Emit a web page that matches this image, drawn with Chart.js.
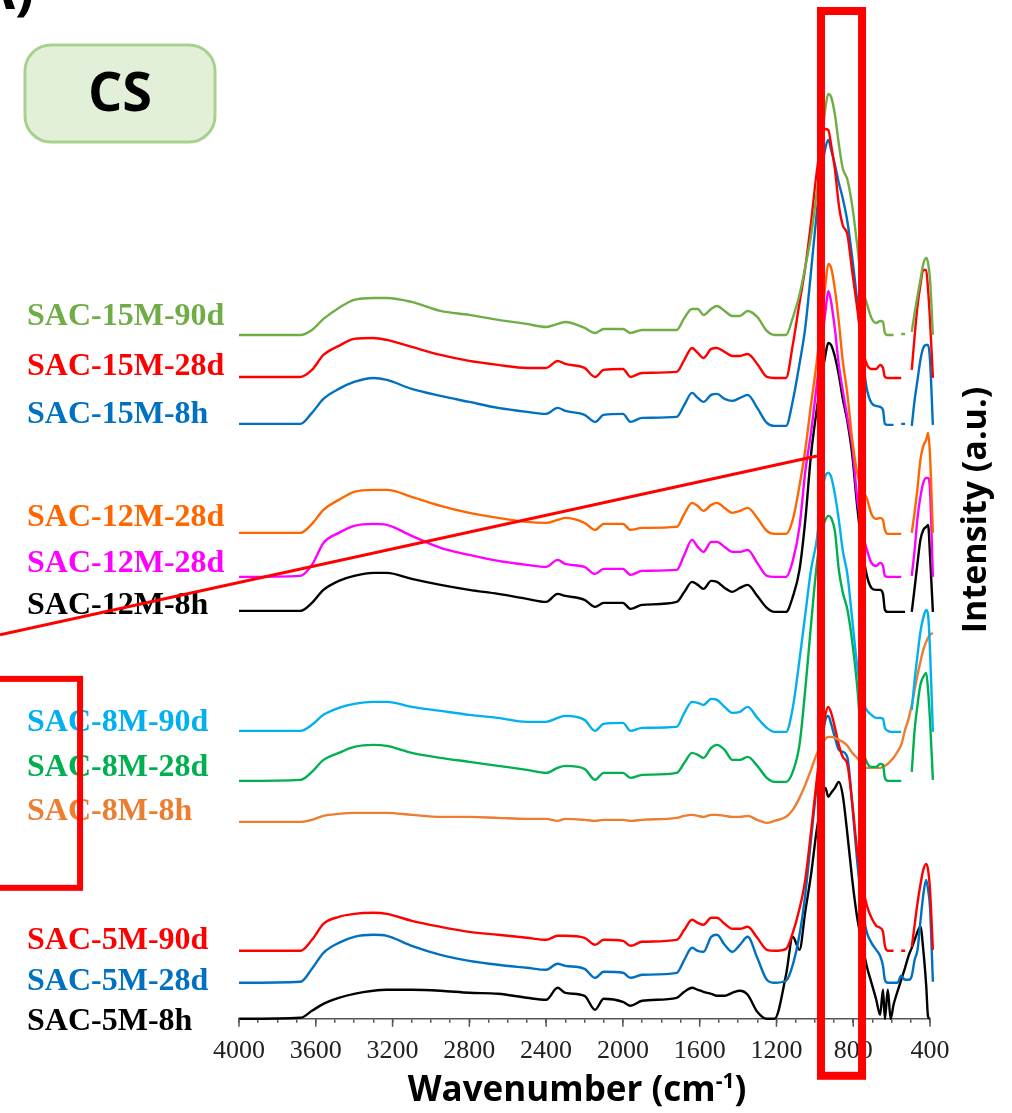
<!DOCTYPE html>
<html>
<head>
<meta charset="utf-8">
<script src="https://cdn.jsdelivr.net/npm/chart.js@4.4.1/dist/chart.umd.min.js"></script>
<style>
  html, body { margin: 0; padding: 0; background: #fff; }
  #wrap { position: relative; width: 1012px; height: 1113px; overflow: hidden; }
</style>
</head>
<body>
<div id="wrap"><canvas id="ftir-chart" width="1012" height="1113"></canvas></div>
<script>
// wavenumbers (cm-1) shared by every spectrum
const wavenumbers = [
  4000, 3680, 3620, 3560, 3480, 3400, 3300, 3230, 3100, 2950, 2800, 2650, 2500,
  2400, 2340, 2300, 2200, 2145, 2100, 2000, 1960, 1900,
  1720, 1680, 1640, 1610, 1580, 1540, 1510, 1470, 1430, 1390, 1350, 1300, 1250, 1210, 1150,
  1115, 1080, 1050, 1020, 990, 965, 945, 930, 915, 895, 875, 855, 830, 805, 780, 755, 730, 705,
  680, 660, 645, 635, 620, 605, 590, 570, 550, 530, 510,
  495, 480, 465, 450, 435, 420, 410, 400, 385
];

// stacked intensities (a.u.), null = no data
const sac15M90d = [
  684, 684, 689, 700, 711, 719, 721, 721, 717, 708, 704, 699, 695,
  692, 695, 697, 691, 686, 690, 690, 686, 689,
  689, 701, 710, 710, 704, 710, 713, 708, 703, 703, 708, 702, 688, 684, 684,
  701, 724, 752, 783, 827, 876, 911, 925, 922, 904, 875, 851, 839, 813, 775, 734, 716, 701,
  696, 698, 697, 686, 684, 684, 684, null, 685, 685, null,
  687, 706, 723, 739, 755, 761, 756, 740, 684
];
const sac15M28d = [
  642, 642, 649, 664, 673, 680, 681, 679, 672, 664, 658, 654, 651,
  651, 658, 655, 651, 642, 649, 650, 642, 646,
  647, 659, 671, 666, 661, 670, 671, 667, 663, 663, 665, 655, 642, 641, 641,
  674, 716, 751, 796, 847, 879, 890, 889, 874, 849, 814, 794, 784, 747, 712, 674, 655, 650,
  650, 654, 651, 642, 641, 641, 641, 641, 641, null, null,
  649, 683, 713, 734, 749, 749, 729, 699, 641
];
const sac15M8h = [
  595, 595, 606, 620, 630, 637, 641, 639, 630, 623, 617, 611, 607,
  605, 611, 608, 604, 597, 604, 605, 597, 601,
  602, 614, 626, 621, 617, 624, 625, 620, 618, 621, 624, 611, 596, 593, 593,
  618, 655, 691, 747, 806, 847, 871, 879, 869, 854, 836, 821, 797, 761, 719, 669, 631, 616,
  613, 612, 609, 595, 594, 594, 594, null, 595, 595, null,
  593, 619, 639, 659, 671, 674, 674, 659, 594
];
const sac12M28dA = [
  486, 486, 495, 509, 519, 527, 529, 529, 522, 513, 506, 501, 497,
  496, 499, 501, 496, 489, 495, 495, 489, 491,
  492, 505, 516, 513, 508, 514, 516, 511, 506, 508, 511, 501, 488, 485, 485,
  499, 533, 569, 614, 657, 699, 734, 755, 751, 729, 697, 659, 624, 579, 547, 529, 521, 505,
  500, 501, 499, 489, 485, 485, 485, 485, 485, null, null,
  486, 507, 531, 559, 573, 579, 586, 564, 486
];
const sac12M28dB = [
  442, 443, 454, 476, 486, 493, 495, 494, 483, 471, 464, 458, 454,
  452, 459, 455, 452, 445, 450, 450, 444, 448,
  449, 464, 479, 472, 467, 477, 477, 472, 467, 467, 469, 456, 443, 442, 442,
  458, 492, 547, 586, 634, 674, 707, 728, 717, 689, 654, 629, 601, 573, 522, 489, 470, 456,
  453, 456, 453, 443, 442, 442, 442, 442, 442, null, null,
  443, 469, 501, 522, 536, 541, 541, 529, 442
];
const sac12M8h = [
  408, 408, 416, 429, 438, 443, 446, 446, 440, 434, 429, 425, 420,
  417, 425, 423, 419, 412, 416, 416, 410, 414,
  417, 427, 437, 434, 430, 438, 437, 431, 427, 431, 434, 423, 411, 407, 407,
  422, 449, 498, 564, 609, 641, 664, 676, 674, 662, 644, 621, 597, 564, 514, 473, 444, 431,
  429, 429, 425, 409, 407, 407, 407, 407, 407, 407, null,
  407, 431, 456, 479, 489, 492, 494, 464, 407
];
const sac8M90d = [
  288, 288, 294, 304, 311, 315, 317, 317, 312, 308, 304, 301, 297,
  297, 301, 303, 299, 288, 295, 296, 288, 291,
  292, 306, 317, 316, 314, 320, 319, 312, 306, 307, 312, 301, 291, 287, 287,
  311, 359, 404, 449, 479, 524, 543, 546, 542, 524, 499, 469, 444, 399, 354, 321, 309, 304,
  301, 301, 300, 291, 288, 287, 287, 287, 287, null, null,
  309, 339, 364, 387, 401, 409, 404, 369, 287
];
const sac8M28d = [
  238, 239, 247, 259, 266, 272, 274, 273, 266, 261, 257, 253, 249,
  246, 251, 253, 250, 239, 246, 246, 241, 244,
  246, 256, 266, 264, 261, 271, 274, 269, 259, 259, 262, 253, 241, 237, 237,
  247, 274, 329, 394, 454, 487, 499, 503, 501, 487, 449, 427, 409, 377, 334, 276, 257, 252,
  252, 255, 254, 241, 238, 238, 238, 238, 238, null, null,
  247, 289, 314, 334, 342, 346, 329, 299, 239
];
const sac8M8h = [
  197, 197, 199, 203, 205, 206, 206, 206, 204, 202, 202, 201, 200,
  200, 198, 200, 199, 198, 199, 199, 198, 199,
  201, 203, 204, 203, 202, 204, 204, 203, 202, 202, 203, 199, 196, 198, 202,
  209, 221, 234, 249, 265, 274, 280, 282, 282, 281, 279, 277, 273, 266, 261, 254, 251, 251,
  251, 251, 252, 253, 255, 258, 261, 267, 274, 289, 301,
  314, 329, 344, 357, 369, 377, 381, 384, 386
];
const sac5M90d = [
  68, 68, 79, 95, 102, 105, 106, 105, 98, 92, 87, 84, 81,
  79, 83, 83, 81, 74, 79, 78, 73, 77,
  79, 89, 99, 96, 94, 101, 101, 95, 90, 90, 92, 81, 69, 68, 70,
  86, 110, 139, 187, 239, 279, 304, 312, 306, 291, 274, 262, 254, 216, 169, 136, 114, 101,
  93, 91, 87, 73, 68, 68, 68, null, 68, 68, null,
  72, 94, 116, 134, 149, 155, 149, 129, 69
];
const sac5M28d = [
  36, 37, 50, 66, 76, 82, 84, 83, 73, 64, 58, 54, 51,
  49, 55, 53, 50, 41, 47, 46, 41, 44,
  46, 59, 71, 68, 67, 82, 84, 74, 67, 74, 82, 61, 39, 36, 38,
  54, 84, 124, 179, 234, 274, 299, 303, 295, 281, 269, 267, 261, 214, 159, 114, 87, 76,
  69, 63, 53, 39, 36, 36, 36, 36, 43, 39, 39,
  43, 59, 69, 97, 124, 139, 129, 112, 37
];
const sac5M8h = [
  0, 1, 8, 15, 21, 25, 28, 29, 29, 28, 26, 25, 21,
  19, 31, 26, 23, 9, 20, 17, 13, 18,
  21, 27, 31, 29, 27, 25, 23, 23, 26, 28, 24, 7, 0, 0, 44,
  82, 69, 107, 144, 189, 216, 231, 222, 226, 231, 237, 224, 184, 139, 102, 77, 53, 36,
  19, 4, 29, 0, 29, 0, 14, 27, 39, 51, 64,
  71, 79, 87, 92, 69, 34, 2, 0, null
];

const names = [
  'SAC-15M-90d', 'SAC-15M-28d', 'SAC-15M-8h',
  'SAC-12M-28d', 'SAC-12M-28d', 'SAC-12M-8h',
  'SAC-8M-90d', 'SAC-8M-28d', 'SAC-8M-8h',
  'SAC-5M-90d', 'SAC-5M-28d', 'SAC-5M-8h'
];
const spectra = [
  sac15M90d, sac15M28d, sac15M8h,
  sac12M28dA, sac12M28dB, sac12M8h,
  sac8M90d, sac8M28d, sac8M8h,
  sac5M90d, sac5M28d, sac5M8h
];

// styling
const colors = [
  '#70AD47', '#FF0000', '#0070C0',
  '#FF6600', '#FF00FF', '#000000',
  '#00B0F0', '#00B050', '#ED7D31',
  '#FF0000', '#0070C0', '#000000'
];
// baseline of each name, in intensity units
const labelLevels = [694, 644, 596, 493, 447, 405, 288, 243, 199, 70, 29, -11];
// red frame around the main band: [wn left, wn right, top, bottom]
const bandBox = [968, 754, 1008, -57];
// pointer to the inset frame: [wn, intensity] -> [wn, intensity]
const pointer = [[5245, 384], [989, 563]];
const insetBox = [5400, 4828, 340, 131];

const datasets = spectra.map((vals, i) => ({
  label: names[i],
  data: wavenumbers.map((w, j) => ({ x: w, y: vals[j] })),
  borderColor: colors[i],
  backgroundColor: colors[i],
  borderWidth: 2.4,
  pointRadius: 0,
  fill: false,
  spanGaps: false,
  cubicInterpolationMode: 'monotone',
  clip: false
}));

// names written at the left of each trace
const seriesLabels = {
  id: 'seriesLabels',
  afterDatasetsDraw(chart) {
    const { ctx, scales: { y } } = chart;
    ctx.save();
    ctx.font = 'bold 32px "Liberation Serif", "Times New Roman", serif';
    ctx.textAlign = 'left';
    ctx.textBaseline = 'alphabetic';
    names.forEach((name, i) => {
      ctx.fillStyle = colors[i];
      ctx.fillText(name, 27, y.getPixelForValue(labelLevels[i]));
    });
    ctx.restore();
  }
};

// longer ticks on the labelled wavenumbers, titles and callouts
const decorations = {
  id: 'decorations',
  afterDraw(chart) {
    const { ctx, scales: { x, y }, chartArea: { bottom } } = chart;
    ctx.save();

    ctx.strokeStyle = '#555';
    ctx.lineWidth = 1.5;
    for (let w = 400; w <= 4000; w += 400) {
      const px = x.getPixelForValue(w);
      ctx.beginPath();
      ctx.moveTo(px, bottom);
      ctx.lineTo(px, bottom + 8);
      ctx.stroke();
    }

    // x title with superscript
    ctx.fillStyle = '#000';
    ctx.textBaseline = 'alphabetic';
    const big = 'bold 35px "Open Sans", sans-serif';
    const small = 'bold 21px "Open Sans", sans-serif';
    ctx.font = big;
    const t1 = 'Wavenumber (cm', t3 = ')';
    const w1 = ctx.measureText(t1).width, w3 = ctx.measureText(t3).width;
    ctx.font = small;
    const t2 = '-1';
    const w2 = ctx.measureText(t2).width;
    const tx = 577 - (w1 + w2 + w3) / 2;
    const ty = 1101;
    ctx.font = big;
    ctx.textAlign = 'left';
    ctx.fillText(t1, tx, ty);
    ctx.font = small;
    ctx.fillText(t2, tx + w1, ty - 13);
    ctx.font = big;
    ctx.fillText(t3, tx + w1 + w2, ty);

    // y title, reading upwards
    ctx.save();
    ctx.translate(976, 510);
    ctx.rotate(-Math.PI / 2);
    ctx.textAlign = 'center';
    ctx.textBaseline = 'middle';
    ctx.font = 'bold 34px "Open Sans", sans-serif';
    ctx.fillText('Intensity (a.u.)', 0, 0);
    ctx.restore();

    // panel tag
    ctx.textAlign = 'right';
    ctx.font = 'bold 56px "Open Sans", sans-serif';
    ctx.fillText('(A)', 34, 9);

    // CS badge
    ctx.beginPath();
    ctx.roundRect(25, 45, 190, 97, 26);
    ctx.fillStyle = '#E2F0D9';
    ctx.fill();
    ctx.strokeStyle = '#A9D18E';
    ctx.lineWidth = 3;
    ctx.stroke();
    ctx.fillStyle = '#000';
    ctx.textAlign = 'center';
    ctx.textBaseline = 'middle';
    ctx.font = 'bold 54px "Open Sans", sans-serif';
    ctx.fillText('CS', 120, 96);

    // red callouts
    ctx.strokeStyle = '#FF0000';
    const bx0 = x.getPixelForValue(bandBox[0]), bx1 = x.getPixelForValue(bandBox[1]);
    const by0 = y.getPixelForValue(bandBox[2]), by1 = y.getPixelForValue(bandBox[3]);
    ctx.lineWidth = 8;
    ctx.strokeRect(bx0, by0, bx1 - bx0, by1 - by0);

    ctx.lineWidth = 3;
    ctx.beginPath();
    ctx.moveTo(x.getPixelForValue(pointer[0][0]), y.getPixelForValue(pointer[0][1]));
    ctx.lineTo(x.getPixelForValue(pointer[1][0]), y.getPixelForValue(pointer[1][1]));
    ctx.stroke();

    const ix0 = x.getPixelForValue(insetBox[0]), ix1 = x.getPixelForValue(insetBox[1]);
    const iy0 = y.getPixelForValue(insetBox[2]), iy1 = y.getPixelForValue(insetBox[3]);
    ctx.lineWidth = 6;
    ctx.strokeRect(ix0, iy0, ix1 - ix0, iy1 - iy0);

    ctx.restore();
  }
};

const config = {
  type: 'line',
  data: { datasets: datasets },
  options: {
    responsive: false,
    animation: false,
    devicePixelRatio: 1,
    layout: { padding: { left: 239, right: 82, top: 0, bottom: 33 } },
    plugins: {
      legend: { display: false },
      tooltip: { enabled: false }
    },
    scales: {
      x: {
        type: 'linear',
        reverse: true,
        min: 400,
        max: 4000,
        border: { display: true, color: '#555', width: 1.5 },
        grid: { drawOnChartArea: false, drawTicks: true, tickLength: 4, color: '#555', lineWidth: 1.5 },
        ticks: {
          stepSize: 100,
          autoSkip: false,
          maxRotation: 0,
          padding: 13,
          color: '#222',
          font: { family: '"Liberation Serif", "Times New Roman", serif', size: 26 },
          callback: function (value) {
            return value % 400 === 0 ? String(value) : '';
          }
        }
      },
      y: {
        display: false,
        min: 0,
        max: 1019
      }
    }
  },
  plugins: [seriesLabels, decorations]
};

const ftirChart = new Chart(document.getElementById('ftir-chart'), config);
</script>
</body>
</html>
